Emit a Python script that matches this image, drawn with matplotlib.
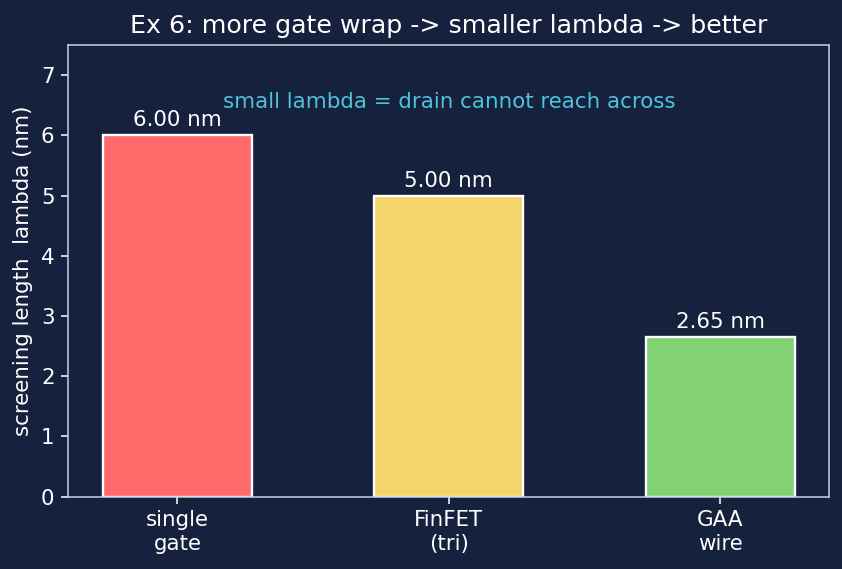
import numpy as np
import matplotlib.pyplot as plt

# screening length per gate geometry
labels = ["single\ngate", "FinFET\n(tri)", "GAA\nwire"]
lam = [6.00, 5.00, 2.65]
colors = ["#ff6b6b", "#f4d56b", "#82d173"]

bg = "#16213e"
fg = "white"

fig, ax = plt.subplots(figsize=(842 / 140, 569 / 140), dpi=140)
fig.patch.set_facecolor(bg)
ax.set_facecolor(bg)

x = np.arange(len(labels))
bars = ax.bar(x, lam, width=0.55, color=colors, edgecolor="white", linewidth=1.2)
for b, v in zip(bars, lam):
    ax.text(b.get_x() + b.get_width() / 2, v + 0.08, f"{v:.2f} nm",
            ha="center", va="bottom", color=fg, fontsize=11)

ax.text(1, 6.55, "small lambda = drain cannot reach across", ha="center",
        va="center", color="#4fc3d9", fontsize=11)

ax.set_xticks(x)
ax.set_xticklabels(labels)
ax.set_ylim(0, 7.5)
ax.set_ylabel("screening length  lambda (nm)", color=fg, fontsize=11)
ax.set_title("Ex 6: more gate wrap -> smaller lambda -> better", color=fg, fontsize=13)
ax.tick_params(colors=fg, labelsize=11)
for s in ax.spines.values():
    s.set_color("#c8d0e0")

fig.subplots_adjust(left=0.081, right=0.985, top=0.921, bottom=0.127)
plt.savefig("out.png", facecolor=bg)
